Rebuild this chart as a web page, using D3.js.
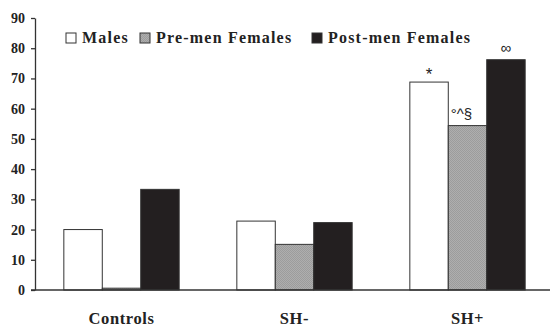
<!DOCTYPE html>
<html>
<head>
<meta charset="utf-8">
<script src="https://cdn.jsdelivr.net/npm/d3@7"></script>
<style>
  body { margin: 0; background: #fff; }
  svg { display: block; }
  .tick text { font-family: "Liberation Serif", serif; font-weight: bold; font-size: 14px; fill: #222; }
  .serif { font-family: "Liberation Serif", serif; font-weight: bold; fill: #222; }
</style>
</head>
<body>
<svg id="chart" width="550" height="328"></svg>
<script>
const groups = ["Controls", "SH-", "SH+"];
const series = ["Males", "Pre-men Females", "Post-men Females"];
const males = [20, 22.8, 68.8];
const preFemales = [0.6, 15.1, 54.4];
const postFemales = [33.3, 22.3, 76.2];
const yTicks = [0, 10, 20, 30, 40, 50, 60, 70, 80, 90];
// significance marks: [group, series, label]
const marks = [["SH+", "Males", "*"], ["SH+", "Pre-men Females", "°^§"], ["SH+", "Post-men Females", "∞"]];

const values = {"Males": males, "Pre-men Females": preFemales, "Post-men Females": postFemales};
const fills = {"Males": "#fff", "Pre-men Females": "url(#dots)", "Post-men Females": "#231f20"};

const svg = d3.select("#chart");
const plotLeft = 35, plotRight = 554, plotTop = 18, plotBottom = 290;

// dithered grey like the print
const defs = svg.append("defs");
const pat = defs.append("pattern").attr("id", "dots")
    .attr("width", 2).attr("height", 2).attr("patternUnits", "userSpaceOnUse");
pat.append("rect").attr("width", 2).attr("height", 2).attr("fill", "#aeaeae");
pat.append("rect").attr("width", 1).attr("height", 1).attr("fill", "#9c9c9c");
pat.append("rect").attr("x", 1).attr("y", 1).attr("width", 1).attr("height", 1).attr("fill", "#9c9c9c");

const y = d3.scaleLinear().domain([0, 90]).range([plotBottom, plotTop]);
const x0 = d3.scaleBand().domain(groups).range([plotLeft, plotRight]);
const x1 = d3.scaleBand().domain(series).range([0, x0.bandwidth()]).paddingOuter(0.75).paddingInner(0);

// bars
const rows = [];
groups.forEach((g, i) => series.forEach(s => rows.push({g: g, s: s, v: values[s][i]})));

svg.append("g").selectAll("rect")
    .data(rows)
    .join("rect")
    .attr("x", d => x0(d.g) + x1(d.s))
    .attr("y", d => y(d.v))
    .attr("width", x1.bandwidth())
    .attr("height", d => y(0) - y(d.v))
    .attr("fill", d => fills[d.s])
    .attr("stroke", "#333")
    .attr("stroke-width", 1);

// y axis
const yAxis = svg.append("g")
    .attr("transform", `translate(${plotLeft},0)`)
    .call(d3.axisLeft(y).tickValues(yTicks).tickSize(4).tickSizeOuter(0).tickPadding(6));
yAxis.select(".domain").attr("stroke", "#333").attr("stroke-width", 1.3);
yAxis.selectAll(".tick line").attr("stroke", "#333").attr("stroke-width", 1.3);

// x baseline
svg.append("line")
    .attr("x1", plotLeft - 4).attr("x2", 550)
    .attr("y1", y(0)).attr("y2", y(0))
    .attr("stroke", "#333").attr("stroke-width", 1.3);

// group labels
svg.append("g").selectAll("text")
    .data(groups)
    .join("text")
    .attr("class", "serif")
    .attr("x", g => x0(g) + x0.bandwidth() / 2)
    .attr("y", 324)
    .attr("text-anchor", "middle")
    .attr("font-size", 16.5)
    .attr("letter-spacing", 0.6)
    .text(g => g);

// significance marks
svg.append("g").selectAll("text")
    .data(marks)
    .join("text")
    .attr("x", d => x0(d[0]) + x1(d[1]) + x1.bandwidth() / 2 + (d[2] === "°^§" ? -6 : 0))
    .attr("y", d => y(values[d[1]][groups.indexOf(d[0])]) - (d[2] === "*" ? 2 : 7))
    .attr("text-anchor", "middle")
    .attr("font-family", "Liberation Sans, sans-serif")
    .attr("font-size", d => d[2] === "*" ? 17 : 15)
    .attr("fill", "#222")
    .text(d => d[2]);

// legend
const legendX = [66, 140, 312];
const legend = svg.append("g").selectAll("g")
    .data(series)
    .join("g")
    .attr("transform", (s, i) => `translate(${legendX[i]},33)`);
legend.append("rect")
    .attr("width", 10).attr("height", 10)
    .attr("fill", s => fills[s])
    .attr("stroke", "#333").attr("stroke-width", 1);
legend.append("text")
    .attr("class", "serif")
    .attr("x", 16).attr("y", 10)
    .attr("font-size", 16)
    .attr("letter-spacing", 1.2)
    .text(s => s);
</script>
</body>
</html>
